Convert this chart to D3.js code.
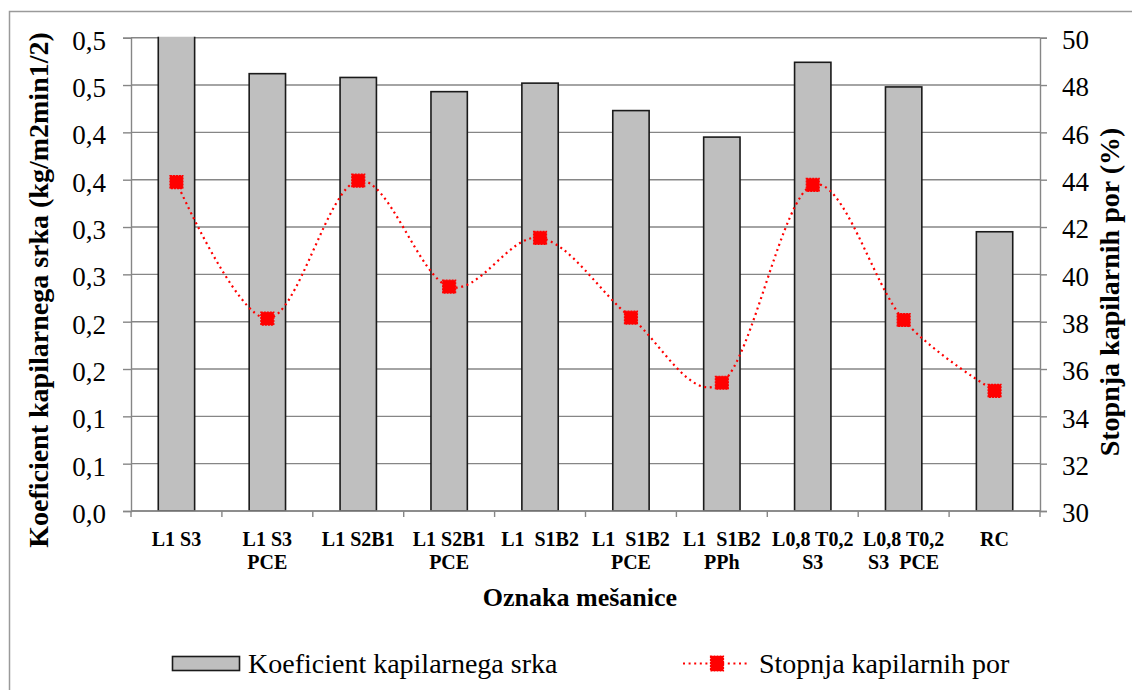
<!DOCTYPE html>
<html>
<head>
<meta charset="utf-8">
<script src="https://cdn.jsdelivr.net/npm/d3@7"></script>
<style>
  html, body { margin: 0; padding: 0; background: #fff; }
  svg { display: block; font-family: "Liberation Serif", "Times New Roman", serif; }
</style>
</head>
<body>
<svg id="chart" width="1132" height="690"></svg>
<script>
// Mixture codes (two-line category labels)
const categories = [
  "L1 S3", "L1 S3 PCE", "L1 S2B1", "L1 S2B1 PCE", "L1  S1B2",
  "L1  S1B2 PCE", "L1  S1B2 PPh", "L0,8 T0,2 S3", "L0,8 T0,2 S3  PCE", "RC"
];
const categoryLines = [
  ["L1 S3"], ["L1 S3", "PCE"], ["L1 S2B1"], ["L1 S2B1", "PCE"], ["L1\u00a0 S1B2"],
  ["L1\u00a0 S1B2", "PCE"], ["L1\u00a0 S1B2", "PPh"], ["L0,8 T0,2", "S3"], ["L0,8 T0,2", "S3\u00a0 PCE"], ["RC"]
];
// Capillary absorption coefficient (kg/m2min1/2)
const coefValues = [0.52, 0.462, 0.458, 0.443, 0.452, 0.423, 0.395, 0.474, 0.448, 0.295];
// Capillary porosity (%)
const poreValues = [43.90, 38.13, 43.96, 39.48, 41.54, 38.17, 35.42, 43.78, 38.07, 35.08];

const leftTickValues = [0, 0.05, 0.10, 0.15, 0.20, 0.25, 0.30, 0.35, 0.40, 0.45, 0.50];
const leftTickLabels = ["0,0", "0,1", "0,1", "0,2", "0,2", "0,3", "0,3", "0,4", "0,4", "0,5", "0,5"];
const rightTickValues = [30, 32, 34, 36, 38, 40, 42, 44, 46, 48, 50];

const seriesNames = ["Koeficient kapilarnega srka", "Stopnja kapilarnih por"];

const svg = d3.select("#chart");
const plot = { left: 131, right: 1040, top: 37.7, bottom: 511 };
const gridColor = "#868686";

// outer chart frame
svg.append("rect")
  .attr("x", 9.5).attr("y", 11.5).attr("width", 1200).attr("height", 760)
  .attr("fill", "none").attr("stroke", "#9a9a9a").attr("stroke-width", 1.5);

const x = d3.scaleBand().domain(categories).range([plot.left, plot.right]).padding(0);
const yL = d3.scaleLinear().domain([0, 0.5]).range([plot.bottom, plot.top]);
const yR = d3.scaleLinear().domain([30, 50]).range([plot.bottom, plot.top]);

// horizontal gridlines
svg.append("g").selectAll("line").data(leftTickValues).join("line")
  .attr("x1", plot.left).attr("x2", plot.right)
  .attr("y1", d => yL(d)).attr("y2", d => yL(d))
  .attr("stroke", gridColor).attr("stroke-width", 1.4);

// clip for plot area
svg.append("clipPath").attr("id", "plotClip").append("rect")
  .attr("x", plot.left).attr("y", plot.top - 1)
  .attr("width", plot.right - plot.left).attr("height", plot.bottom - plot.top + 1);

// bars
const barW = x.bandwidth() * 0.4;
svg.append("g").attr("clip-path", "url(#plotClip)")
  .selectAll("rect").data(coefValues).join("rect")
  .attr("x", (d, i) => x(categories[i]) + (x.bandwidth() - barW) / 2)
  .attr("y", d => yL(d))
  .attr("width", barW)
  .attr("height", d => yL(0) - yL(d))
  .attr("fill", "#bfbfbf").attr("stroke", "#1a1a1a").attr("stroke-width", 1.6);

// left axis
const leftAxis = d3.axisLeft(yL).tickValues(leftTickValues).tickSize(8)
  .tickFormat((d, i) => leftTickLabels[i]).tickPadding(17);
const gL = svg.append("g").attr("transform", `translate(${plot.left},0)`).call(leftAxis);
gL.select(".domain").attr("stroke", gridColor).attr("stroke-width", 1.4);
gL.selectAll(".tick line").attr("stroke", gridColor).attr("stroke-width", 1.4);
gL.selectAll(".tick text").attr("font-size", 27).attr("font-family", "Liberation Serif")
  .attr("fill", "#000").attr("dy", "0.42em");

// right axis
const rightAxis = d3.axisRight(yR).tickValues(rightTickValues).tickSize(7).tickPadding(15);
const gR = svg.append("g").attr("transform", `translate(${plot.right},0)`).call(rightAxis);
gR.select(".domain").attr("stroke", gridColor).attr("stroke-width", 1.4);
gR.selectAll(".tick line").attr("stroke", gridColor).attr("stroke-width", 1.4);
gR.selectAll(".tick text").attr("font-size", 27).attr("font-family", "Liberation Serif")
  .attr("fill", "#000").attr("dy", "0.4em");

// bottom axis with ticks on band boundaries
const gB = svg.append("g");
gB.append("line").attr("x1", plot.left).attr("x2", plot.right)
  .attr("y1", plot.bottom).attr("y2", plot.bottom)
  .attr("stroke", gridColor).attr("stroke-width", 1.4);
const boundaries = categories.map(c => x(c)).concat([plot.right]);
gB.selectAll("line.tk").data(boundaries).join("line").attr("class", "tk")
  .attr("x1", d => d).attr("x2", d => d)
  .attr("y1", plot.bottom).attr("y2", plot.bottom + 6)
  .attr("stroke", gridColor).attr("stroke-width", 1.4);

// category labels
const catG = svg.append("g").attr("font-weight", "bold").attr("font-size", 20)
  .attr("text-anchor", "middle");
categoryLines.forEach((lines, i) => {
  const cx = x(categories[i]) + x.bandwidth() / 2;
  lines.forEach((t, j) => {
    catG.append("text").attr("x", cx).attr("y", 546 + j * 22.5).text(t);
  });
});

// axis titles
svg.append("text").attr("x", 580).attr("y", 606)
  .attr("text-anchor", "middle").attr("font-weight", "bold").attr("font-size", 26)
  .text("Oznaka mešanice");

svg.append("text").attr("transform", "translate(48,290) rotate(-90)")
  .attr("text-anchor", "middle").attr("font-weight", "bold").attr("font-size", 28)
  .text("Koeficient kapilarnega srka (kg/m2min1/2)");

svg.append("text").attr("transform", "translate(1119,292) rotate(-90)")
  .attr("text-anchor", "middle").attr("font-weight", "bold").attr("font-size", 28)
  .text("Stopnja kapilarnih por (%)");

// smoothed porosity line
const cxOf = i => x(categories[i]) + x.bandwidth() / 2;
const line = d3.line().x((d, i) => cxOf(i)).y(d => yR(d)).curve(d3.curveCardinal.tension(0));
svg.append("path").datum(poreValues).attr("d", line)
  .attr("fill", "none").attr("stroke", "#ff0000").attr("stroke-width", 2.2)
  .attr("stroke-dasharray", "2 3.6");

// square markers
const ms = 13;
svg.append("g").selectAll("rect").data(poreValues).join("rect")
  .attr("x", (d, i) => cxOf(i) - ms / 2).attr("y", d => yR(d) - ms / 2)
  .attr("width", ms).attr("height", ms)
  .attr("fill", "#ff0000").attr("stroke", "#ff0000").attr("stroke-width", 1.2)
  .attr("stroke-dasharray", "2 1");

// legend
const lg = svg.append("g").attr("font-size", 28);
lg.append("rect").attr("x", 172.5).attr("y", 656.5).attr("width", 67).attr("height", 14)
  .attr("fill", "#bfbfbf").attr("stroke", "#1a1a1a").attr("stroke-width", 1.6);
lg.append("text").attr("x", 248).attr("y", 673).text(seriesNames[0]);

lg.append("line").attr("x1", 683).attr("x2", 750).attr("y1", 663.5).attr("y2", 663.5)
  .attr("stroke", "#ff0000").attr("stroke-width", 2.2).attr("stroke-dasharray", "2 3.6");
lg.append("rect").attr("x", 717 - ms / 2).attr("y", 663.5 - ms / 2 - 1)
  .attr("width", ms).attr("height", ms + 2)
  .attr("fill", "#ff0000").attr("stroke", "#ff0000").attr("stroke-width", 1.2)
  .attr("stroke-dasharray", "2 1");
lg.append("text").attr("x", 759).attr("y", 673).text(seriesNames[1]);
</script>
</body>
</html>
